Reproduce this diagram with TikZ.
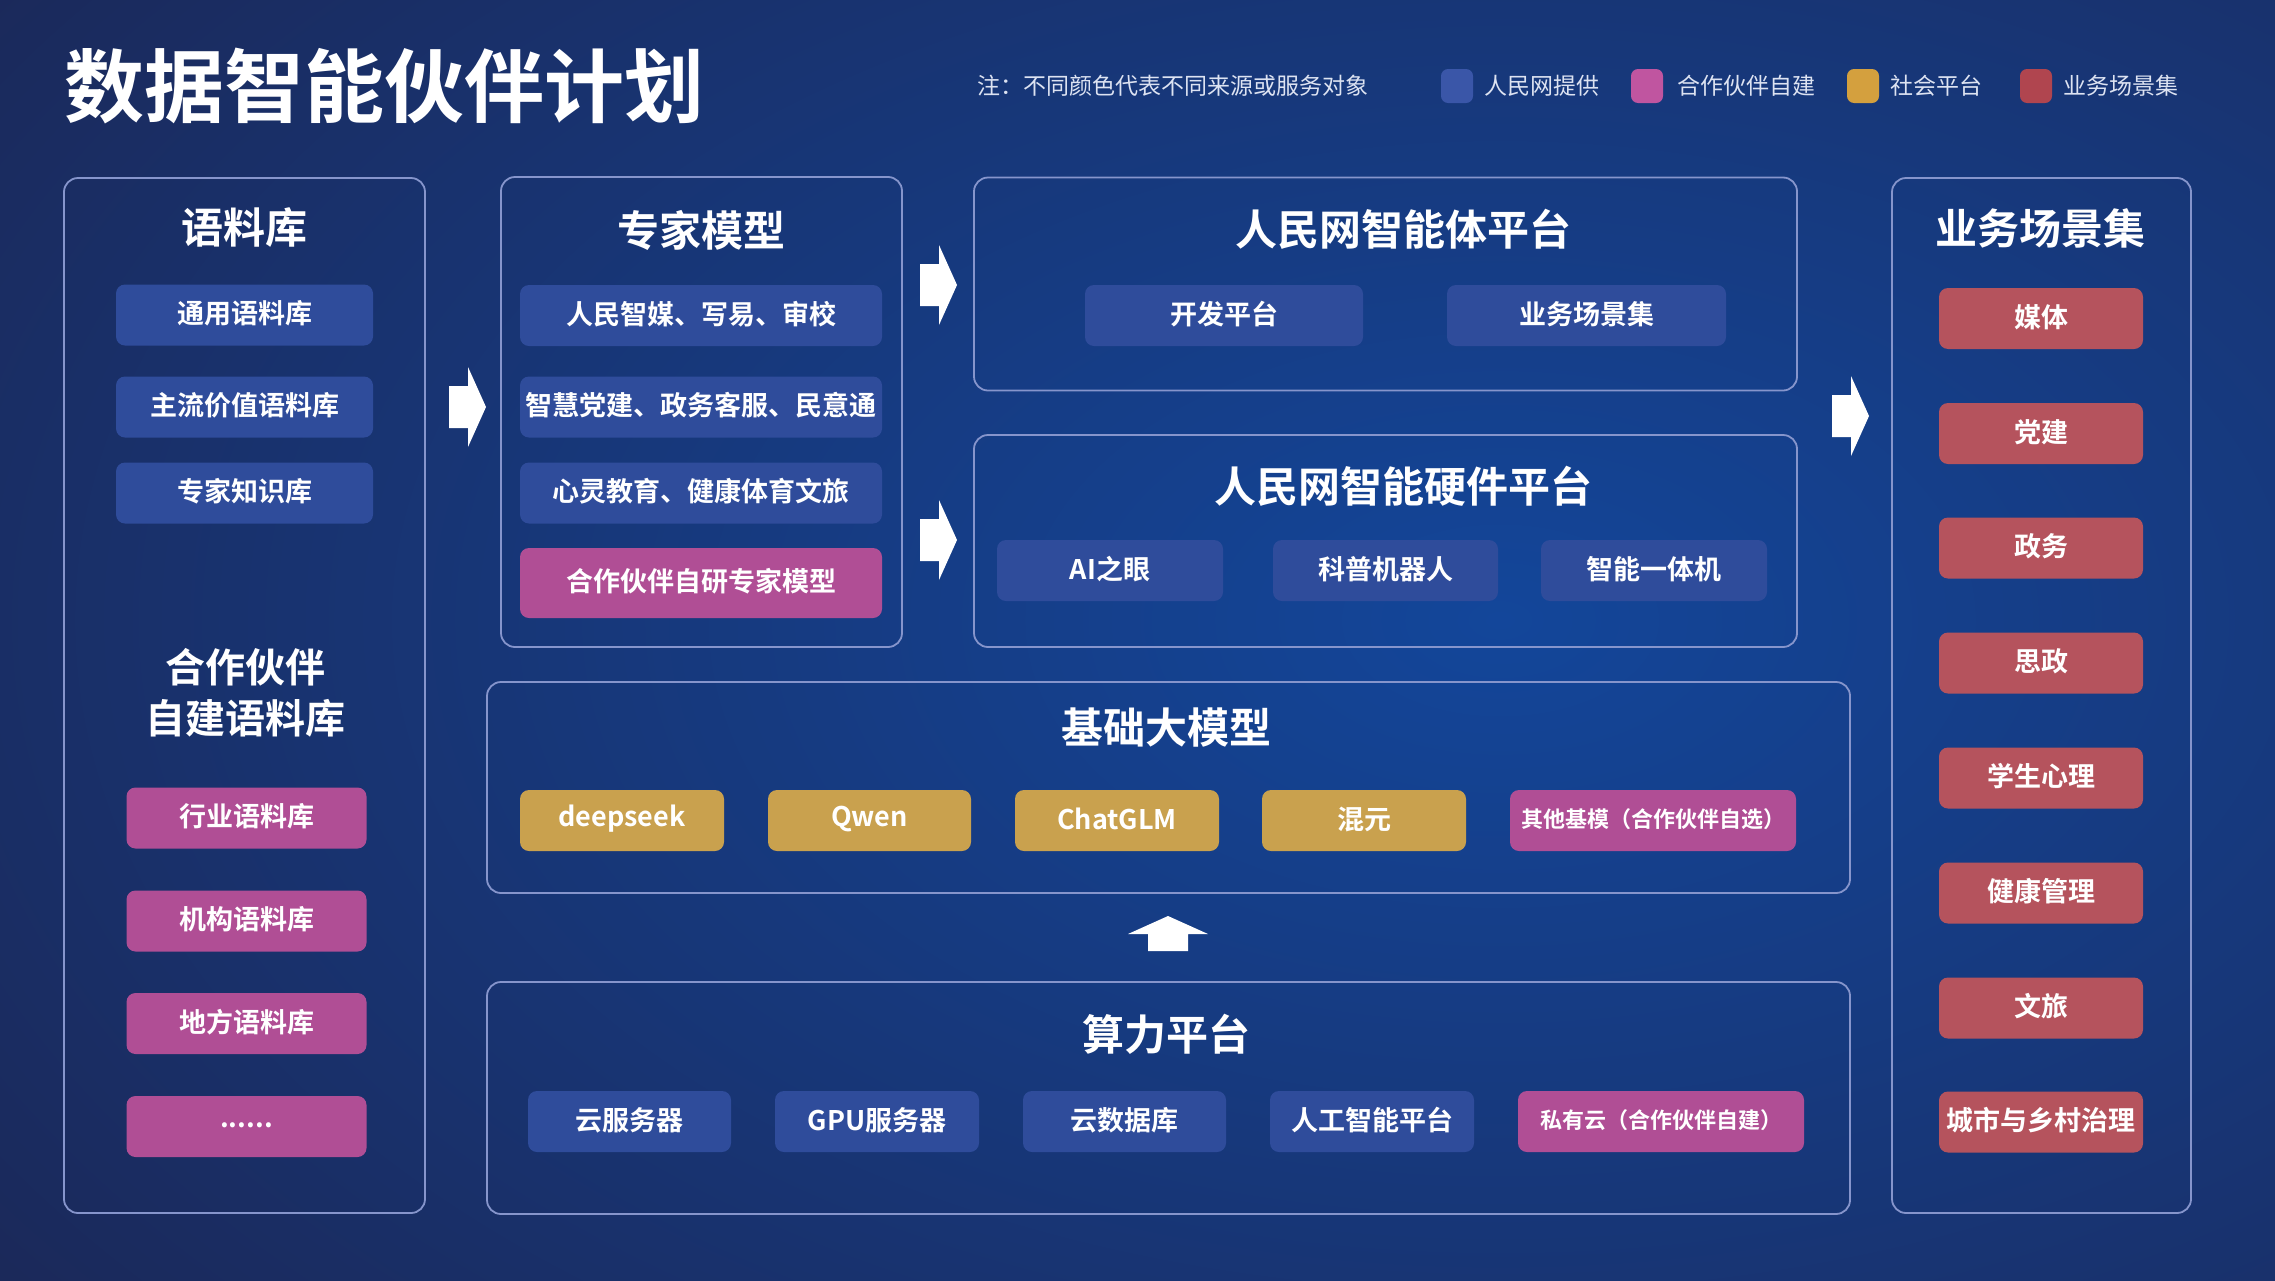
\documentclass[tikz,border=0pt]{standalone}
\usepackage{fontspec}
\setmainfont{Noto Sans CJK SC}[BoldFont={Noto Sans CJK SC Bold}]
\definecolor{bgdark}{HTML}{1B2858}
\definecolor{bgglow}{HTML}{13469A}
\definecolor{panelline}{HTML}{8695CC}
\definecolor{btnblue}{HTML}{2F4C9B}
\definecolor{btnpink}{HTML}{B04E95}
\definecolor{btngold}{HTML}{C9A14E}
\definecolor{btnred}{HTML}{B5535D}
\definecolor{legblue}{HTML}{3A56A8}
\definecolor{legpink}{HTML}{C055A0}
\definecolor{leggold}{HTML}{D4A03E}
\definecolor{legred}{HTML}{B0454F}
\definecolor{legtext}{HTML}{DDE3F2}
\tikzset{
  panel/.style={draw=panelline, line width=1.8pt, rounded corners=14pt, inner sep=0pt},
  ptitle/.style={text=white, font=\bfseries\fontsize{42pt}{48pt}\selectfont, inner sep=0pt, yshift=3pt},
  btn/.style={rounded corners=9pt, minimum height=61pt, inner sep=0pt},
  btxt/.style={text=white, inner sep=0pt, font=\bfseries\fontsize{27pt}{32pt}\selectfont},
  bblue/.style={btn, fill=btnblue},
  bpink/.style={btn, fill=btnpink},
  bgold/.style={btn, fill=btngold},
  bred/.style={btn, fill=btnred},
  small/.style={font=\bfseries\fontsize{22pt}{26pt}\selectfont},
  swatch/.style={rounded corners=7pt, minimum width=32pt, minimum height=34pt, inner sep=0pt},
  legtxt/.style={text=legtext, anchor=west, inner sep=0pt, font=\fontsize{23pt}{28pt}\selectfont},
  rarrow/.pic={\fill[white] (-19,-21) -- (0,-21) -- (0,-40) -- (18,0) -- (0,40) -- (0,21) -- (-19,21) -- cycle;},
  uarrow/.pic={\fill[white] (-20,17) -- (-20,0) -- (-40,0) -- (0,-18) -- (40,0) -- (20,0) -- (20,17) -- cycle;}
}
\begin{document}
\begin{tikzpicture}[x=1pt,y=-1pt]
% background
\fill[bgdark] (0,0) rectangle (2275,1280);
\begin{scope}
  \clip (0,0) rectangle (2275,1280);
  \shade[inner color=bgglow, outer color=bgdark] (1500,620) ellipse (1900 and 1150);
\end{scope}
\useasboundingbox (0,0) rectangle (2275,1280);

% title
\node[text=white, inner sep=0pt, font=\bfseries\fontsize{80pt}{90pt}\selectfont] (title) at (384,86) {数据智能伙伴计划};

% legend
\node[legtxt] (note) at (977,86) {注：不同颜色代表不同来源或服务对象};
\node[swatch, fill=legblue] (sw1) at (1457,86) {};
\node[legtxt] (lg1) at (1484,86) {人民网提供};
\node[swatch, fill=legpink] (sw2) at (1647,86) {};
\node[legtxt] (lg2) at (1677,86) {合作伙伴自建};
\node[swatch, fill=leggold] (sw3) at (1863,86) {};
\node[legtxt] (lg3) at (1890,86) {社会平台};
\node[swatch, fill=legred] (sw4) at (2036,86) {};
\node[legtxt] (lg4) at (2063,86) {业务场景集};

% left panel: corpus
\node[panel, minimum width=361pt, minimum height=1035pt] (corpus) at (244.5,695.5) {};
\node[ptitle] (corpusT) at (244,231) {语料库};
\node[bblue, minimum width=257pt] (c1) at (244.5,315) {};
\node[btxt] (c1t) at ([yshift=1.5pt]c1.center) {通用语料库};
\node[bblue, minimum width=257pt] (c2) at (244.5,407) {};
\node[btxt] (c2t) at ([yshift=1.5pt]c2.center) {主流价值语料库};
\node[bblue, minimum width=257pt] (c3) at (244.5,493) {};
\node[btxt] (c3t) at ([yshift=1.5pt]c3.center) {专家知识库};
\node[text=white, inner sep=0pt, align=center, font=\bfseries\fontsize{40pt}{51pt}\selectfont] (partnerT) at (245,693) {合作伙伴\\自建语料库};
\node[bpink, minimum width=240pt] (pc1) at (246.5,818) {};
\node[btxt] (pc1t) at ([yshift=1.5pt]pc1.center) {行业语料库};
\node[bpink, minimum width=240pt] (pc2) at (246.5,921) {};
\node[btxt] (pc2t) at ([yshift=1.5pt]pc2.center) {机构语料库};
\node[bpink, minimum width=240pt] (pc3) at (246.5,1023.5) {};
\node[btxt] (pc3t) at ([yshift=1.5pt]pc3.center) {地方语料库};
\node[bpink, minimum width=240pt] (pc4) at (246.5,1126.5) {};
\node[btxt] (pc4t) at ([yshift=1.5pt]pc4.center) {......};

% expert models
\node[panel, minimum width=401pt, minimum height=470pt] (expert) at (701.5,412) {};
\node[ptitle] (expertT) at (701,233) {专家模型};
\node[bblue, minimum width=362pt] (e1) at (701,315.5) {};
\node[btxt] (e1t) at ([yshift=1.5pt]e1.center) {人民智媒、写易、审校};
\node[bblue, minimum width=362pt] (e2) at (701,407) {};
\node[btxt] (e2t) at ([yshift=1.5pt]e2.center) {智慧党建、政务客服、民意通};
\node[bblue, minimum width=362pt] (e3) at (701,493) {};
\node[btxt] (e3t) at ([yshift=1.5pt]e3.center) {心灵教育、健康体育文旅};
\node[bpink, minimum width=362pt, minimum height=70pt] (e4) at (701,583) {};
\node[btxt] (e4t) at ([yshift=1.5pt]e4.center) {合作伙伴自研专家模型};

% agent platform
\node[panel, minimum width=823pt, minimum height=213pt] (agent) at (1385.5,284) {};
\node[ptitle] (agentT) at (1403,232) {人民网智能体平台};
\node[bblue, minimum width=278pt] (a1) at (1224,315.5) {};
\node[btxt] (a1t) at ([yshift=1.5pt]a1.center) {开发平台};
\node[bblue, minimum width=279pt] (a2) at (1586.5,315.5) {};
\node[btxt] (a2t) at ([yshift=1.5pt]a2.center) {业务场景集};

% hardware platform
\node[panel, minimum width=823pt, minimum height=212pt] (hw) at (1385.5,541) {};
\node[ptitle] (hwT) at (1403,489) {人民网智能硬件平台};
\node[bblue, minimum width=226pt] (h1) at (1110,570.5) {};
\node[btxt] (h1t) at ([yshift=1.5pt]h1.center) {AI之眼};
\node[bblue, minimum width=225pt] (h2) at (1385.5,570.5) {};
\node[btxt] (h2t) at ([yshift=1.5pt]h2.center) {科普机器人};
\node[bblue, minimum width=226pt] (h3) at (1654,570.5) {};
\node[btxt] (h3t) at ([yshift=1.5pt]h3.center) {智能一体机};

% business scenarios
\node[panel, minimum width=299pt, minimum height=1035pt] (biz) at (2041.5,695.5) {};
\node[ptitle] (bizT) at (2040,231) {业务场景集};
\node[bred, minimum width=204pt] (b1) at (2041,318.5) {};
\node[btxt] (b1t) at ([yshift=1.5pt]b1.center) {媒体};
\node[bred, minimum width=204pt] (b2) at (2041,433.5) {};
\node[btxt] (b2t) at ([yshift=1.5pt]b2.center) {党建};
\node[bred, minimum width=204pt] (b3) at (2041,548) {};
\node[btxt] (b3t) at ([yshift=1.5pt]b3.center) {政务};
\node[bred, minimum width=204pt] (b4) at (2041,663) {};
\node[btxt] (b4t) at ([yshift=1.5pt]b4.center) {思政};
\node[bred, minimum width=204pt] (b5) at (2041,778) {};
\node[btxt] (b5t) at ([yshift=1.5pt]b5.center) {学生心理};
\node[bred, minimum width=204pt] (b6) at (2041,893) {};
\node[btxt] (b6t) at ([yshift=1.5pt]b6.center) {健康管理};
\node[bred, minimum width=204pt] (b7) at (2041,1008) {};
\node[btxt] (b7t) at ([yshift=1.5pt]b7.center) {文旅};
\node[bred, minimum width=204pt] (b8) at (2041,1122) {};
\node[btxt] (b8t) at ([yshift=1.5pt]b8.center) {城市与乡村治理};

% foundation models
\node[panel, minimum width=1363pt, minimum height=211pt] (base) at (1168.5,787.5) {};
\node[ptitle] (baseT) at (1166,731) {基础大模型};
\node[bgold, minimum width=204pt] (m1) at (622,820.5) {};
\node[btxt] (m1t) at ([yshift=1.5pt]m1.center) {deepseek};
\node[bgold, minimum width=203pt] (m2) at (869.5,820.5) {};
\node[btxt] (m2t) at ([yshift=1.5pt]m2.center) {Qwen};
\node[bgold, minimum width=204pt] (m3) at (1117,820.5) {};
\node[btxt] (m3t) at ([yshift=1.5pt]m3.center) {ChatGLM};
\node[bgold, minimum width=204pt] (m4) at (1364,820.5) {};
\node[btxt] (m4t) at ([yshift=1.5pt]m4.center) {混元};
\node[bpink, minimum width=286pt] (m5) at (1653,820.5) {};
\node[btxt, small] (m5t) at ([yshift=1.5pt]m5.center) {其他基模（合作伙伴自选）};

% compute platform
\node[panel, minimum width=1363pt, minimum height=232pt] (comp) at (1168.5,1098) {};
\node[ptitle] (compT) at (1166,1037) {算力平台};
\node[bblue, minimum width=203pt] (k1) at (629.5,1121.5) {};
\node[btxt] (k1t) at ([yshift=1.5pt]k1.center) {云服务器};
\node[bblue, minimum width=204pt] (k2) at (877,1121.5) {};
\node[btxt] (k2t) at ([yshift=1.5pt]k2.center) {GPU服务器};
\node[bblue, minimum width=203pt] (k3) at (1124.5,1121.5) {};
\node[btxt] (k3t) at ([yshift=1.5pt]k3.center) {云数据库};
\node[bblue, minimum width=204pt] (k4) at (1372,1121.5) {};
\node[btxt] (k4t) at ([yshift=1.5pt]k4.center) {人工智能平台};
\node[bpink, minimum width=286pt] (k5) at (1661,1121.5) {};
\node[btxt, small] (k5t) at ([yshift=1.5pt]k5.center) {私有云（合作伙伴自建）};

% block arrows
\pic at (468,407) {rarrow};
\pic at (939,285) {rarrow};
\pic at (939,540) {rarrow};
\pic at (1851,416) {rarrow};
\pic at (1168,934) {uarrow};
\end{tikzpicture}
\end{document}
